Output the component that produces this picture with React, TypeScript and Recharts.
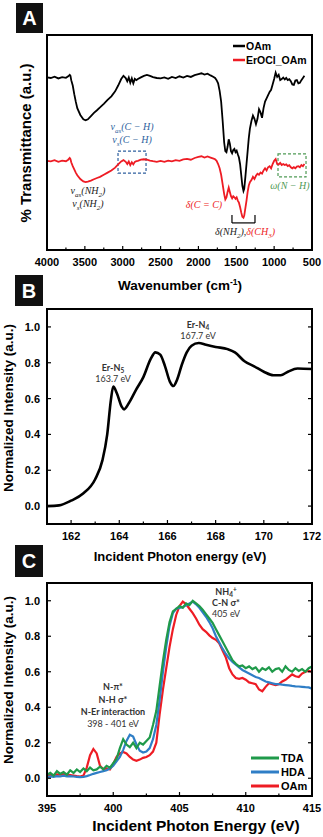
import React from "react";
import { LineChart, Line, XAxis, YAxis, ReferenceArea, ReferenceLine } from "recharts";

const SANS = "'Liberation Sans', Arial, sans-serif";
const SERIF = "'Liberation Serif', 'DejaVu Serif', serif";
const CAL = "Lato, 'Open Sans', sans-serif";

// ---- A: FTIR ----
const wavenumbers = [
  4000, 3950, 3900, 3850, 3800, 3750, 3720, 3700, 3690, 3680,
  3660, 3640, 3620, 3600, 3560, 3520, 3490, 3460, 3420, 3380,
  3340, 3300, 3250, 3200, 3150, 3100, 3060, 3020, 2990, 2960,
  2940, 2920, 2900, 2880, 2860, 2840, 2820, 2800, 2760, 2720,
  2680, 2640, 2600, 2550, 2500, 2450, 2400, 2350, 2300, 2250,
  2200, 2150, 2100, 2050, 2000, 1960, 1920, 1880, 1840, 1800,
  1780, 1760, 1740, 1720, 1700, 1680, 1660, 1645, 1630, 1615,
  1600, 1585, 1570, 1555, 1540, 1525, 1510, 1495, 1480, 1465,
  1450, 1435, 1420, 1405, 1395, 1380, 1365, 1350, 1335, 1320,
  1300, 1280, 1260, 1240, 1220, 1200, 1180, 1160, 1140, 1120,
  1100, 1080, 1060, 1040, 1020, 1000, 980, 960, 940, 920,
  900, 880, 860, 840, 820, 800, 780, 760, 740, 720,
  700, 680, 660, 640, 620, 600,
];
const oamFtir = [
  80.3, 80.0, 80.6, 79.8, 80.4, 80.1, 80.8, 81.5, 81.0, 79.0,
  76.5, 72.5, 69.0, 66.0, 62.8, 60.8, 60.3, 60.8, 62.3, 63.8,
  65.0, 66.3, 68.0, 69.8, 71.5, 73.8, 76.5, 79.5, 81.0, 80.0,
  78.5, 80.2, 77.8, 79.8, 77.5, 79.6, 79.0, 79.5, 80.3, 81.0,
  81.4, 81.0, 80.4, 80.0, 79.8, 80.3, 79.6, 80.5, 80.0, 80.8,
  80.2, 81.0, 80.5, 81.3, 81.8, 82.2, 81.6, 82.0, 81.2, 80.5,
  80.0, 79.0, 77.5, 74.0, 69.0, 60.0, 50.0, 46.0, 45.5, 48.0,
  51.5, 49.5, 46.0, 45.0, 46.5, 47.0, 45.5, 46.2, 44.5, 43.0,
  40.0, 35.0, 30.0, 27.5, 28.5, 34.0, 40.0, 46.0, 52.0, 56.5,
  60.0, 62.5, 61.0, 58.5, 61.0, 65.5, 64.0, 61.5, 66.0, 69.0,
  70.5, 72.0, 73.5, 74.5, 77.0, 79.5, 82.5, 80.5, 81.5, 79.0,
  79.5, 80.2, 79.3, 80.0, 79.0, 79.4, 78.5, 77.0, 76.8, 78.8,
  79.0, 77.5, 77.8, 79.0, 80.0, 81.0,
];
const erOclFtir = [
  41.5, 41.2, 41.8, 41.0, 41.6, 41.3, 42.0, 42.8, 42.3, 40.8,
  39.0, 37.5, 36.0, 34.8, 33.0, 31.9, 31.6, 31.8, 32.3, 32.9,
  33.5, 34.0, 35.0, 36.0, 37.0, 38.3, 39.8, 41.2, 41.8, 41.0,
  40.0, 41.2, 39.5, 40.8, 39.8, 41.0, 41.3, 41.5, 42.0, 42.2,
  42.0, 41.6, 41.3, 41.0, 41.4, 41.0, 41.6, 41.2, 41.8, 41.5,
  42.1, 42.4, 42.0, 42.8, 43.3, 43.6, 43.0, 43.5, 43.0, 42.5,
  42.2, 41.5, 40.0, 38.0, 35.0, 30.5, 26.0, 23.5, 24.5, 27.0,
  29.0, 27.0, 25.0, 24.0, 25.0, 24.5, 23.8, 24.5, 23.0, 22.0,
  20.0, 17.5, 15.5, 15.0, 16.0, 19.5, 23.0, 27.0, 30.0, 31.5,
  32.5, 34.0, 33.0, 34.5, 35.5, 35.0, 36.0, 35.5, 37.0, 38.0,
  37.0, 38.5, 39.0, 38.0, 40.0, 41.5, 42.3, 40.0, 39.8, 40.5,
  39.5, 40.0, 39.5, 39.8, 39.0, 39.4, 38.5, 38.0, 38.5, 38.0,
  38.8, 39.0, 38.5, 39.5, 39.0, 40.0,
];
const ftirTicks = [4000, 3750, 3500, 3250, 3000, 2750, 2500, 2250, 2000, 1750, 1500, 1250, 1000, 750, 500];

// ---- B: Er N-edge ----
const energyB = [
  161.0, 161.5, 162.0, 162.5, 163.0, 163.3, 163.5, 163.65, 163.75, 163.9,
  164.1, 164.2, 164.4, 164.7, 165.0, 165.3, 165.5, 165.7, 165.9, 166.1,
  166.25, 166.4, 166.6, 166.8, 167.0, 167.3, 167.6, 168.0, 168.5, 168.8,
  169.2, 169.6, 170.0, 170.4, 170.7, 171.0, 171.4, 172.0,
];
const intensityB = [
  0.0, 0.004, 0.03, 0.07, 0.15, 0.255, 0.4, 0.59, 0.667, 0.63,
  0.555, 0.54, 0.575, 0.65, 0.72, 0.82, 0.858, 0.845, 0.78, 0.695,
  0.67, 0.705, 0.79, 0.858, 0.895, 0.91, 0.9, 0.888, 0.876, 0.858,
  0.808, 0.78, 0.75, 0.73, 0.73, 0.75, 0.768, 0.765,
];
const ticksB = [161, 162, 163, 164, 165, 166, 167, 168, 169, 170, 171, 172];

// ---- C: N K-edge ----
const energyC = [
  395.0, 395.25, 395.5, 395.75, 396.0, 396.25, 396.5, 396.75,
  397.0, 397.25, 397.5, 397.75, 398.0, 398.25, 398.5, 398.75,
  399.0, 399.25, 399.5, 399.75, 400.0, 400.25, 400.5, 400.75,
  401.0, 401.25, 401.5, 401.75, 402.0, 402.25, 402.5, 402.75,
  403.0, 403.25, 403.5, 403.75, 404.0, 404.25, 404.5, 404.75,
  405.0, 405.25, 405.5, 405.75, 406.0, 406.25, 406.5, 406.75,
  407.0, 407.25, 407.5, 407.75, 408.0, 408.25, 408.5, 408.75,
  409.0, 409.25, 409.5, 409.75, 410.0, 410.25, 410.5, 410.75,
  411.0, 411.25, 411.5, 411.75, 412.0, 412.25, 412.5, 412.75,
  413.0, 413.25, 413.5, 413.75, 414.0, 414.25, 414.5, 414.75,
  415.0,
];
const tdaC = [
  0.02, 0.03, 0.015, 0.04, 0.025, 0.035, 0.02, 0.045,
  0.03, 0.05, 0.035, 0.055, 0.04, 0.06, 0.045, 0.05,
  0.065, 0.05, 0.07, 0.06, 0.085, 0.11, 0.17, 0.22,
  0.19, 0.175, 0.2, 0.17, 0.2, 0.19, 0.21, 0.23,
  0.3, 0.38, 0.52, 0.66, 0.78, 0.88, 0.94, 0.955,
  0.97, 0.96, 0.985, 0.975, 1.0, 0.985, 0.97, 0.95,
  0.925, 0.9, 0.875, 0.84, 0.805, 0.77, 0.735, 0.7,
  0.665, 0.645, 0.63, 0.635, 0.62, 0.63, 0.615, 0.625,
  0.6, 0.62, 0.61, 0.625, 0.6, 0.615, 0.62, 0.6,
  0.63, 0.61, 0.6, 0.62, 0.605, 0.615, 0.6, 0.62,
  0.63,
];
const hdaC = [
  0.005, 0.01, 0.008, 0.012, 0.01, 0.015, 0.01, 0.012,
  0.01, 0.008, 0.006, 0.008, 0.012, 0.018, 0.025, 0.03,
  0.035, 0.04, 0.045, 0.055, 0.07, 0.095, 0.12, 0.16,
  0.21, 0.245, 0.235, 0.19, 0.155, 0.145, 0.15, 0.17,
  0.22, 0.3, 0.44, 0.6, 0.74, 0.86, 0.93, 0.955,
  0.96, 0.965, 0.975, 0.985, 0.995, 0.98, 0.96, 0.935,
  0.91, 0.88, 0.845, 0.8, 0.765, 0.73, 0.7, 0.675,
  0.655, 0.64, 0.625, 0.61, 0.6, 0.59, 0.58, 0.57,
  0.565, 0.555, 0.545, 0.54, 0.535, 0.53, 0.53, 0.527,
  0.525, 0.523, 0.52, 0.518, 0.517, 0.515, 0.513, 0.512,
  0.505,
];
const oamC = [
  0.015, 0.02, 0.018, 0.022, 0.02, 0.025, 0.02, 0.018,
  0.015, 0.012, 0.01, 0.015, 0.06, 0.13, 0.165, 0.14,
  0.07, 0.05, 0.055, 0.05, 0.08, 0.12, 0.14, 0.148,
  0.14, 0.12, 0.105, 0.098, 0.105, 0.115, 0.12, 0.13,
  0.15, 0.2, 0.36, 0.5, 0.62, 0.74, 0.84, 0.92,
  0.97, 0.995, 0.98, 0.955, 0.93, 0.9, 0.865, 0.84,
  0.825, 0.805, 0.79, 0.78, 0.76, 0.72, 0.68, 0.62,
  0.585, 0.565, 0.56, 0.565, 0.555, 0.54, 0.535, 0.53,
  0.5, 0.49, 0.515, 0.535, 0.53, 0.525, 0.53, 0.545,
  0.555, 0.57, 0.585, 0.575, 0.57, 0.59, 0.6, 0.605,
  0.6,
];
const ticksC = [395, 397.5, 400, 402.5, 405, 407.5, 410, 412.5, 415];
const yTicks = [0, 0.2, 0.4, 0.6, 0.8, 1.0];

const dataA = wavenumbers.map((w, i) => ({ w, oam: oamFtir[i], erocl: erOclFtir[i] }));
const dataB = energyB.map((e, i) => ({ e, v: intensityB[i] }));
const dataC = energyC.map((e, i) => ({ e, tda: tdaC[i], hda: hdaC[i], oam: oamC[i] }));

function bottomTick(step: number) {
  return function BottomTick(props: any) {
    const { x, y, payload } = props;
    const major = payload.value % step === 0;
    return (
      <g>
        <line x1={x} x2={x} y1={y} y2={y - (major ? 4 : 2.5)} stroke="#000" strokeWidth={1.2} />
        {major && (
          <text x={x} y={y + 16} textAnchor="middle" fontFamily={SANS} fontSize={11} fontWeight={700} fill="#000">
            {payload.value}
          </text>
        )}
      </g>
    );
  };
}

function sideTick(rightX: number) {
  return function SideTick(props: any) {
    const { x, y, payload } = props;
    return (
      <g>
        <line x1={x} x2={x + 4} y1={y} y2={y} stroke="#000" strokeWidth={1.2} />
        <line x1={rightX} x2={rightX - 4} y1={y} y2={y} stroke="#000" strokeWidth={1.2} />
        <text x={x - 7} y={y + 4} textAnchor="end" fontFamily={SANS} fontSize={11} fontWeight={700} fill="#000">
          {Number(payload.value).toFixed(1)}
        </text>
      </g>
    );
  };
}

function PanelA() {
  return (
    <LineChart width={323} height={300} data={dataA} margin={{ top: 35, right: 11, bottom: 49, left: 46 }}>
      <XAxis
        dataKey="w"
        type="number"
        domain={[500, 4000]}
        reversed
        ticks={ftirTicks}
        interval={0}
        tickSize={0}
        tickMargin={0}
        height={1}
        axisLine={false}
        tick={bottomTick(500)}
      />
      <YAxis type="number" domain={[0, 100]} width={1} tick={false} tickLine={false} axisLine={false} />
      <ReferenceArea x1={3062} x2={2692} y1={35.8} y2={46} fill="none" fillOpacity={0} stroke="#2e5f9e" strokeWidth={1.2} strokeDasharray="3 2" ifOverflow="visible" />
      <ReferenceArea x1={949} x2={579} y1={34} y2={44.7} fill="none" fillOpacity={0} stroke="#4f9a55" strokeWidth={1.2} strokeDasharray="3 2" ifOverflow="visible" />
      <ReferenceLine segment={[{ x: 1557, y: 16.3 }, { x: 1557, y: 12.6 }]} stroke="#000" strokeWidth={1.2} ifOverflow="visible" />
      <ReferenceLine segment={[{ x: 1557, y: 12.6 }, { x: 1253, y: 12.6 }]} stroke="#000" strokeWidth={1.2} ifOverflow="visible" />
      <ReferenceLine segment={[{ x: 1253, y: 12.6 }, { x: 1253, y: 16.3 }]} stroke="#000" strokeWidth={1.2} ifOverflow="visible" />
      <Line dataKey="oam" type="linear" stroke="#000" strokeWidth={1.8} dot={false} isAnimationActive={false} />
      <Line dataKey="erocl" type="linear" stroke="#ee1c24" strokeWidth={1.8} dot={false} isAnimationActive={false} />
    </LineChart>
  );
}

function PanelB() {
  return (
    <LineChart width={323} height={300} data={dataB} margin={{ top: 39, right: 11, bottom: 45, left: 46 }}>
      <XAxis
        dataKey="e"
        type="number"
        domain={[161, 172]}
        ticks={ticksB}
        interval={0}
        tickSize={0}
        tickMargin={0}
        height={1}
        axisLine={false}
        tick={bottomTick(2)}
      />
      <YAxis
        type="number"
        domain={[-0.1, 1.1]}
        ticks={yTicks}
        interval={0}
        width={1}
        tickSize={0}
        tickMargin={0}
        axisLine={false}
        tick={sideTick(312)}
      />
      <Line dataKey="v" type="monotone" stroke="#000" strokeWidth={2.6} dot={false} isAnimationActive={false} />
    </LineChart>
  );
}

function PanelC() {
  return (
    <LineChart width={323} height={297} data={dataC} margin={{ top: 43, right: 11, bottom: 40, left: 46 }}>
      <XAxis
        dataKey="e"
        type="number"
        domain={[395, 415]}
        ticks={ticksC}
        interval={0}
        tickSize={0}
        tickMargin={0}
        height={1}
        axisLine={false}
        tick={bottomTick(5)}
      />
      <YAxis
        type="number"
        domain={[-0.1, 1.1]}
        ticks={yTicks}
        interval={0}
        width={1}
        tickSize={0}
        tickMargin={0}
        axisLine={false}
        tick={sideTick(312)}
      />
      <Line dataKey="oam" type="linear" stroke="#ee1c24" strokeWidth={2.2} dot={false} isAnimationActive={false} />
      <Line dataKey="hda" type="linear" stroke="#2f7ec6" strokeWidth={2.2} dot={false} isAnimationActive={false} />
      <Line dataKey="tda" type="linear" stroke="#1f9a4a" strokeWidth={2.2} dot={false} isAnimationActive={false} />
    </LineChart>
  );
}

function PanelLetter({ x, y, w, h, text }: { x: number; y: number; w: number; h: number; text: string }) {
  return (
    <g>
      <rect x={x} y={y} width={w} height={h} fill="#111" />
      <text x={x + w / 2} y={y + h / 2 + 7} textAnchor="middle" fill="#fff" fontFamily={SANS} fontWeight={700} fontSize={20}>
        {text}
      </text>
    </g>
  );
}

// plot box outline
function PlotBox({ x, y, w, h }: { x: number; y: number; w: number; h: number }) {
  return (
    <path
      d={`M${x},${y} L${x + w},${y} L${x + w},${y + h} L${x},${y + h} Z`}
      fill="none"
      stroke="#000"
      strokeWidth={2}
    />
  );
}

function Overlay() {
  const title = { fontFamily: SANS, fontWeight: 700, fill: "#000" } as const;
  const math = { fontFamily: SERIF, fontStyle: "italic", fontSize: 10, textAnchor: "middle" } as const;
  const cal = { fontFamily: CAL, fontSize: 9, textAnchor: "middle", fill: "#333" } as const;
  return (
    <svg width={323} height={837} style={{ position: "absolute", left: 0, top: 0, pointerEvents: "none" }}>
      <PlotBox x={47} y={35} w={265} h={215} />
      <PlotBox x={47} y={309} w={265} h={215} />
      <PlotBox x={47} y={583} w={265} h={213} />

      <PanelLetter x={16} y={3} w={27} h={30} text="A" />
      <PanelLetter x={15} y={275} w={28} h={31} text="B" />
      <PanelLetter x={15} y={545} w={28} h={32} text="C" />

      {/* axis titles */}
      <text x={180} y={290} textAnchor="middle" fontSize={13.5} {...title}>
        Wavenumber (cm<tspan dy={-5} fontSize={8.5}>-1</tspan><tspan dy={5}>)</tspan>
      </text>
      <text x={31} y={143} textAnchor="middle" fontSize={15} transform="rotate(-90 31 143)" {...title}>
        % Transmittance (a.u.)
      </text>
      <text x={180} y={561} textAnchor="middle" fontSize={13} {...title}>
        Incident Photon energy (eV)
      </text>
      <text x={13} y={408} textAnchor="middle" fontSize={13.5} transform="rotate(-90 13 408)" {...title}>
        Normalized Intensity (a.u.)
      </text>
      <text x={196} y={831} textAnchor="middle" fontSize={15.5} {...title}>
        Incident Photon Energy (eV)
      </text>
      <text x={13} y={680} textAnchor="middle" fontSize={13.5} transform="rotate(-90 13 680)" {...title}>
        Normalized Intensity (a.u.)
      </text>

      {/* legend A */}
      <line x1={233} x2={245} y1={46} y2={46} stroke="#000" strokeWidth={2.5} />
      <line x1={233} x2={245} y1={60} y2={60} stroke="#ee1c24" strokeWidth={2.5} />
      <text x={246} y={50} fontSize={10.5} {...title}>OAm</text>
      <text x={246} y={64} fontSize={10.5} {...title}>ErOCl_OAm</text>

      {/* annotations A */}
      <text x={132} y={130} fill="#2e5f9e" {...math}>
        ν<tspan dy={2.5} fontSize={7}>as</tspan><tspan dy={-2.5}>(C − H)</tspan>
      </text>
      <text x={132} y={143} fill="#2e5f9e" {...math}>
        ν<tspan dy={2.5} fontSize={7}>s</tspan><tspan dy={-2.5}>(C − H)</tspan>
      </text>
      <text x={88} y={194} fill="#222" {...math}>
        ν<tspan dy={2.5} fontSize={7}>as</tspan><tspan dy={-2.5}>(NH</tspan><tspan dy={2.5} fontSize={7}>2</tspan><tspan dy={-2.5}>)</tspan>
      </text>
      <text x={88} y={207} fill="#222" {...math}>
        ν<tspan dy={2.5} fontSize={7}>s</tspan><tspan dy={-2.5}>(NH</tspan><tspan dy={2.5} fontSize={7}>2</tspan><tspan dy={-2.5}>)</tspan>
      </text>
      <text x={204} y={208} fill="#ee1c24" {...math}>δ(C = C)</text>
      <text x={290} y={189} fill="#4f9a55" {...math}>ω(N − H)</text>
      <text x={245} y={235} {...math} fill="#222">
        δ(NH<tspan dy={2.5} fontSize={7}>2</tspan><tspan dy={-2.5}>),</tspan>
        <tspan fill="#ee1c24">δ(CH</tspan><tspan fill="#ee1c24" dy={2.5} fontSize={7}>3</tspan><tspan fill="#ee1c24" dy={-2.5}>)</tspan>
      </text>

      {/* annotations B */}
      <text x={113} y={371} fontWeight={700} {...cal}>
        Er-N<tspan dy={2} fontSize={6.5}>5</tspan>
      </text>
      <text x={113} y={382} {...cal}>163.7 eV</text>
      <text x={198} y={328} fontWeight={700} {...cal}>
        Er-N<tspan dy={2} fontSize={6.5}>4</tspan>
      </text>
      <text x={198} y={339} {...cal}>167.7 eV</text>

      {/* annotations C */}
      <text x={226} y={595} fontWeight={700} {...cal}>
        NH<tspan dy={2} fontSize={6.5}>4</tspan><tspan dy={-5} fontSize={6.5}>+</tspan>
      </text>
      <text x={226} y={606} fontWeight={700} {...cal}>C-N σ*</text>
      <text x={226} y={617} {...cal}>405 eV</text>
      <text x={113} y={690} fontWeight={700} {...cal}>N-π*</text>
      <text x={113} y={703} fontWeight={700} {...cal}>N-H σ*</text>
      <text x={113} y={715} fontWeight={700} {...cal}>N-Er interaction</text>
      <text x={113} y={727} {...cal}>398 - 401 eV</text>

      {/* legend C */}
      <line x1={251} x2={279} y1={758} y2={758} stroke="#1f9a4a" strokeWidth={3} />
      <line x1={251} x2={279} y1={772} y2={772} stroke="#2f7ec6" strokeWidth={3} />
      <line x1={251} x2={279} y1={786} y2={786} stroke="#ee1c24" strokeWidth={3} />
      <text x={281} y={762} fontSize={11} {...title}>TDA</text>
      <text x={281} y={776} fontSize={11} {...title}>HDA</text>
      <text x={281} y={790} fontSize={11} {...title}>OAm</text>
    </svg>
  );
}

export default function App() {
  return (
    <div style={{ position: "absolute", left: 0, top: 0, width: 323, height: 837, background: "#fff" }}>
      <div style={{ position: "absolute", left: 0, top: 0 }}>
        <PanelA />
      </div>
      <div style={{ position: "absolute", left: 0, top: 270 }}>
        <PanelB />
      </div>
      <div style={{ position: "absolute", left: 0, top: 540 }}>
        <PanelC />
      </div>
      <Overlay />
    </div>
  );
}
